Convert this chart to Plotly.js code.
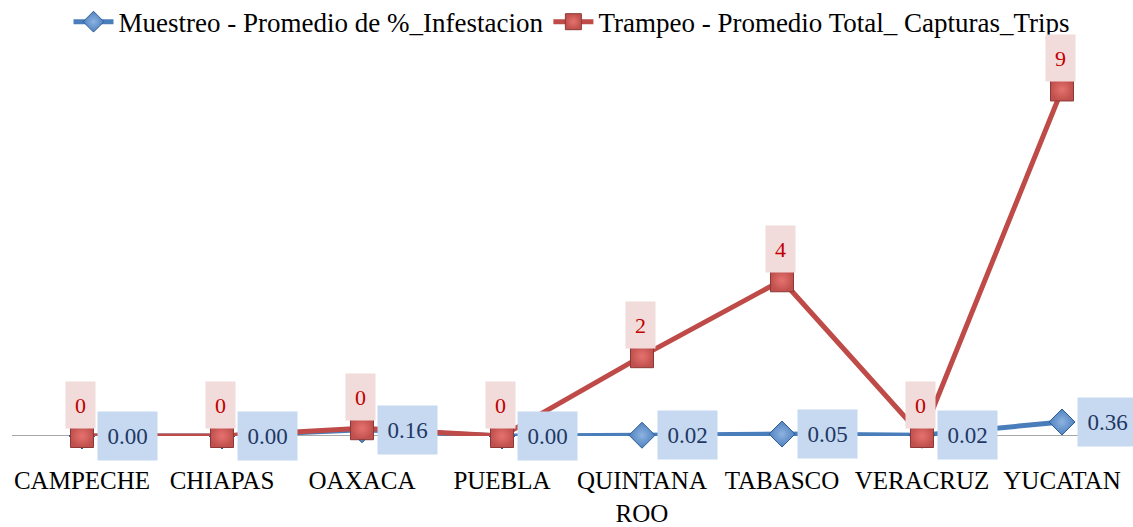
<!DOCTYPE html>
<html>
<head>
<meta charset="utf-8">
<script src="https://cdn.plot.ly/plotly-3.0.1.min.js"></script>
<style>
html,body{margin:0;padding:0;background:#fff;}
#chart{width:1133px;height:527px;}
</style>
</head>
<body>
<div id="chart"></div>
<script>
const categories = ["CAMPECHE","CHIAPAS","OAXACA","PUEBLA","QUINTANA<br>ROO","TABASCO","VERACRUZ","YUCATAN"];
const muestreoValues = [0.00, 0.00, 0.16, 0.00, 0.02, 0.05, 0.02, 0.36];
const trampeoValues = [0.0, 0.0, 0.2, 0.0, 2.05, 4.0, 0.0, 8.9];
const muestreoName = "Muestreo - Promedio de %_Infestacion";
const trampeoName = "Trampeo - Promedio Total_ Capturas_Trips";

const FONT = "Liberation Serif";

const traces = [
  {
    x: categories, y: muestreoValues, name: muestreoName,
    type: "scatter", mode: "lines+markers", cliponaxis: false,
    line: {color: "#4a7ebb", width: 5},
    marker: {symbol: "diamond", size: 20, color: "#4f81bd",
             line: {color: "#2c5d98", width: 1},
             gradient: {type: "radial", color: "#8db3e2"}}
  },
  {
    x: categories, y: trampeoValues, name: trampeoName,
    type: "scatter", mode: "lines+markers", cliponaxis: false,
    line: {color: "#be4b48", width: 5},
    marker: {symbol: "square", size: 23, color: "#c0504d",
             line: {color: "#8c3836", width: 1},
             gradient: {type: "radial", color: "#e6726f"}}
  }
];

const annotations = [];
categories.forEach((c, i) => {
  annotations.push({
    x: c, y: trampeoValues[i], xref: "x", yref: "y",
    text: trampeoValues[i].toFixed(0), showarrow: false,
    xshift: -2, yshift: 31, width: 27, height: 44,
    bgcolor: "#f2dcdb", font: {family: FONT, size: 22, color: "#c00000"}
  });
  annotations.push({
    x: c, y: muestreoValues[i], xref: "x", yref: "y",
    text: muestreoValues[i].toFixed(2), showarrow: false,
    xshift: 45, yshift: 0, width: 57, height: 46,
    bgcolor: "#c6d9f1", font: {family: FONT, size: 23, color: "#1f3864"}
  });
});

const layout = {
  width: 1133, height: 527,
  margin: {l: 12, r: 1, t: 39, b: 91},
  paper_bgcolor: "#ffffff", plot_bgcolor: "#ffffff",
  showlegend: true,
  legend: {orientation: "h", x: 0.5, xanchor: "center", yref: "container", y: 0.958, yanchor: "middle",
           font: {family: FONT, size: 27, color: "#000"}, itemwidth: 40},
  xaxis: {type: "category", range: [-0.5, 7.5], showgrid: false, zeroline: false,
          showline: false, ticks: "outside", ticklen: 22, tickcolor: "rgba(0,0,0,0)",
          tickfont: {family: FONT, size: 25, color: "#000"}},
  yaxis: {range: [0, 10], visible: false, showgrid: false, zeroline: false},
  shapes: [{type: "line", xref: "paper", yref: "y", x0: 0, x1: 1, y0: 0, y1: 0,
            line: {color: "#8a8a8a", width: 1.5}, layer: "below"}],
  annotations: annotations
};

Plotly.newPlot("chart", traces, layout, {displayModeBar: false, staticPlot: true});
</script>
</body>
</html>
